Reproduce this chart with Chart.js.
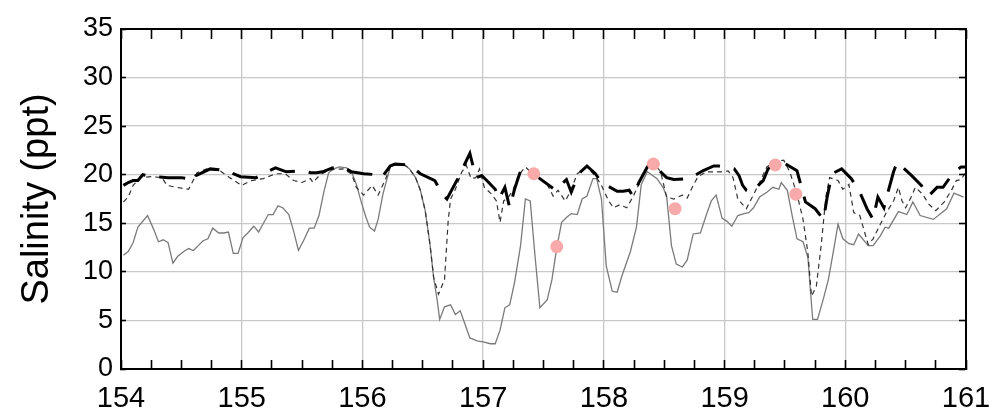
<!DOCTYPE html>
<html>
<head>
<meta charset="utf-8">
<script src="https://cdn.jsdelivr.net/npm/chart.js@4.4.0/dist/chart.umd.min.js"></script>
<style>
html, body { margin: 0; padding: 0; background: #fff; }
#wrap { width: 989px; height: 419px; }
</style>
</head>
<body>
<div id="wrap"><canvas id="salChart"></canvas></div>
<script>
// gray solid line
var grayX = [154.02,154.06,154.10,154.14,154.22,154.27,154.31,154.35,154.39,154.43,154.47,154.52,154.56,154.60,154.64,154.68,154.72,154.76,154.81,154.85,154.89,154.93,154.97,155.01,155.05,155.10,155.14,155.18,155.22,155.26,155.30,155.34,155.39,155.43,155.47,155.52,155.56,155.60,155.64,155.68,155.72,155.76,155.81,155.87,155.91,155.95,155.99,156.03,156.06,156.10,156.13,156.17,156.23,156.27,156.35,156.39,156.44,156.48,156.52,156.56,156.59,156.62,156.64,156.68,156.73,156.77,156.81,156.85,156.89,156.95,157.00,157.06,157.10,157.14,157.18,157.22,157.26,157.31,157.35,157.39,157.43,157.47,157.53,157.57,157.61,157.65,157.69,157.73,157.78,157.82,157.86,157.91,157.94,157.98,158.02,158.07,158.11,158.15,158.22,158.27,158.31,158.36,158.44,158.49,158.52,158.56,158.60,158.65,158.69,158.74,158.80,158.85,158.89,158.93,158.98,159.02,159.06,159.11,159.16,159.20,159.24,159.29,159.35,159.40,159.45,159.47,159.52,159.56,159.60,159.65,159.69,159.73,159.77,159.82,159.86,159.90,159.94,159.98,160.03,160.07,160.11,160.19,160.23,160.29,160.33,160.36,160.44,160.51,160.56,160.62,160.73,160.84,160.90,160.98];
var grayY = [11.7,12.1,13.0,14.6,15.8,14.4,13.1,13.3,13.0,10.9,11.6,12.1,12.4,12.2,12.7,13.2,13.4,14.5,14.0,14.0,14.1,11.9,11.9,13.5,14.0,14.7,14.1,15.0,15.9,15.9,16.8,16.6,15.9,14.2,12.2,13.4,14.5,14.5,15.8,18.2,20.2,20.6,20.8,20.7,20.3,19.0,17.2,15.6,14.6,14.2,15.4,18.0,20.8,21.0,21.0,20.6,19.7,18.4,16.3,12.8,9.4,7.0,5.1,6.4,6.6,5.6,6.0,4.6,3.2,2.9,2.8,2.6,2.6,4.0,6.3,6.6,8.9,12.7,17.5,17.3,11.6,6.3,7.1,9.2,12.5,15.1,15.6,16.0,15.9,17.5,17.8,19.6,19.6,17.5,10.6,8.0,7.9,9.6,12.1,14.6,19.0,20.3,19.6,18.7,17.8,12.7,10.8,10.5,11.2,13.9,14.0,15.9,17.3,17.9,15.5,15.2,14.7,15.8,16.0,16.1,16.6,17.7,18.2,18.7,18.5,19.2,18.4,15.8,13.4,13.1,11.5,5.1,5.1,7.3,9.2,12.0,14.9,13.4,12.9,12.8,13.9,12.7,12.7,13.7,14.6,14.5,16.2,15.9,17.2,15.8,15.4,16.5,18.1,17.7];

// thin dashed line
var thinX = [154.02,154.06,154.10,154.16,154.25,154.34,154.38,154.46,154.56,154.63,154.71,154.82,154.90,155.00,155.08,155.18,155.28,155.36,155.43,155.50,155.57,155.59,155.65,155.73,155.84,155.91,155.95,156.01,156.08,156.13,156.19,156.23,156.27,156.35,156.39,156.44,156.48,156.52,156.56,156.59,156.63,156.68,156.71,156.73,156.77,156.82,156.86,156.90,156.94,156.97,157.01,157.07,157.11,157.14,157.17,157.21,157.25,157.29,157.35,157.40,157.46,157.53,157.58,157.62,157.68,157.72,157.78,157.86,157.94,157.98,158.04,158.08,158.13,158.19,158.24,158.29,158.34,158.41,158.47,158.52,158.58,158.65,158.69,158.74,158.78,158.85,158.93,158.99,159.03,159.07,159.11,159.18,159.23,159.29,159.35,159.43,159.49,159.54,159.60,159.65,159.69,159.72,159.76,159.80,159.84,159.87,159.94,159.98,160.03,160.07,160.12,160.19,160.23,160.29,160.34,160.40,160.44,160.47,160.50,160.55,160.58,160.64,160.69,160.75,160.82,160.88,160.92,160.96,161.00];
var thinY = [17.2,17.7,18.9,19.7,19.8,19.7,18.9,18.7,18.5,20.2,20.6,20.4,19.7,18.9,19.4,19.6,20.1,20.1,19.4,19.2,19.6,19.2,20.0,20.5,20.6,20.1,18.7,17.9,18.9,17.9,19.5,20.8,21.0,21.0,20.6,19.7,18.4,16.3,12.8,9.4,7.7,9.2,15.2,17.5,18.5,20.2,21.0,19.6,19.7,20.6,18.7,18.0,17.3,15.1,17.3,17.7,18.5,19.9,20.8,20.2,19.7,19.0,17.8,18.4,17.3,18.2,20.1,20.8,19.7,18.9,17.3,16.6,16.9,16.6,17.7,19.0,20.4,21.3,20.3,17.7,17.5,17.9,17.6,18.9,19.8,20.3,20.3,20.3,20.4,19.7,17.5,16.5,17.7,19.2,20.8,21.4,21.5,20.3,18.0,15.4,12.0,7.5,8.5,12.7,17.8,19.7,19.4,18.5,19.0,16.1,15.8,12.8,13.4,14.9,16.1,17.3,18.7,17.3,16.6,17.8,18.7,18.0,17.0,16.3,17.2,18.4,19.4,19.5,20.3];

// thick dashed line
var thickX = [154.02,154.06,154.10,154.14,154.18,154.25,154.39,154.50,154.56,154.59,154.62,154.74,154.82,154.89,154.93,154.99,155.12,155.21,155.28,155.37,155.51,155.57,155.62,155.67,155.75,155.84,155.91,156.01,156.12,156.16,156.23,156.27,156.39,156.48,156.60,156.66,156.70,156.79,156.89,156.94,156.99,157.03,157.10,157.13,157.18,157.22,157.26,157.31,157.35,157.40,157.47,157.60,157.64,157.69,157.73,157.79,157.86,157.93,157.98,158.11,158.16,158.21,158.24,158.29,158.36,158.41,158.47,158.52,158.58,158.71,158.82,158.91,158.95,159.08,159.12,159.15,159.18,159.22,159.32,159.36,159.43,159.48,159.60,159.67,159.75,159.82,159.85,159.89,159.97,160.05,160.12,160.18,160.23,160.27,160.32,160.36,160.40,160.43,160.55,160.63,160.69,160.76,160.81,160.90,160.96,161.00];
var thickY = [18.9,19.2,19.4,19.4,20.0,19.8,19.7,19.7,19.6,19.3,19.9,20.6,20.5,20.4,20.1,19.8,19.7,20.3,20.7,20.3,20.4,20.2,20.2,20.3,20.7,20.8,20.3,20.1,20.0,19.7,20.9,21.1,21.0,20.1,19.4,18.0,17.5,19.6,22.2,19.7,19.9,19.4,18.5,17.5,18.7,16.6,18.5,20.4,20.6,20.2,19.6,18.4,18.9,19.5,18.2,20.1,20.9,20.1,19.2,18.3,18.3,18.4,17.8,19.2,20.8,21.3,20.3,19.7,19.5,19.6,20.4,20.9,20.9,20.6,19.9,18.9,18.4,18.2,19.4,20.6,21.2,21.3,20.4,17.2,16.5,15.4,17.7,20.1,20.6,19.6,18.2,16.5,15.4,17.7,16.6,18.5,20.3,21.3,19.9,18.9,17.8,18.7,18.7,20.3,20.8,20.8];

// pink sample dots
var dotX = [157.42, 157.61, 158.41, 158.59, 159.42, 159.59];
var dotY = [20.1, 12.6, 21.1, 16.5, 21.0, 18.0];

var xLabels = [154, 155, 156, 157, 158, 159, 160, 161];

function pts(xs, ys) {
    return xs.map(function (x, i) { return { x: x, y: ys[i] }; });
}

// frame edges: extra axes pinned to the plot edges, no labels, ticks pointing inwards
var frameBorder = { display: true, color: '#000', width: 2, z: 2 };
function edgeX(yValue, tl) {
    return {
        type: 'linear',
        position: { y: yValue },
        min: 154,
        max: 161,
        border: frameBorder,
        grid: { drawOnChartArea: false, z: 2, tickLength: tl, tickWidth: 1.6, tickColor: '#000' },
        ticks: { stepSize: 0.25, autoSkip: false, display: false }
    };
}
function edgeY(xValue, tl) {
    return {
        type: 'linear',
        position: { x: xValue },
        min: 0,
        max: 35,
        border: frameBorder,
        grid: { drawOnChartArea: false, z: 2, tickLength: tl, tickWidth: 1.6, tickColor: '#000' },
        ticks: { stepSize: 5, display: false }
    };
}

var ctx = document.getElementById('salChart').getContext('2d');
var salChart = new Chart(ctx, {
    type: 'line',
    data: {
        datasets: [{
            label: 'samples',
            data: pts(dotX, dotY),
            showLine: false,
            pointRadius: 6.5,
            pointBackgroundColor: '#f8aaaa',
            pointBorderWidth: 0,
            order: 0
        }, {
            label: 'thick',
            data: pts(thickX, thickY),
            borderColor: '#000',
            borderWidth: 3,
            borderDash: [26, 14],
            pointRadius: 0,
            tension: 0,
            order: 1
        }, {
            label: 'thin',
            data: pts(thinX, thinY),
            borderColor: '#333',
            borderWidth: 1.2,
            borderDash: [5, 4],
            pointRadius: 0,
            tension: 0,
            order: 2
        }, {
            label: 'gray',
            data: pts(grayX, grayY),
            borderColor: '#7a7a7a',
            borderWidth: 1.3,
            pointRadius: 0,
            tension: 0,
            order: 3
        }]
    },
    options: {
        responsive: true,
        maintainAspectRatio: false,
        animation: false,
        layout: {
            padding: { top: 29, right: 23, left: 0, bottom: 0 }
        },
        scales: {
            x: {
                type: 'linear',
                position: 'bottom',
                min: 154,
                max: 161,
                afterFit: function (s) { s.height = 50; s.paddingLeft = 0; s.paddingRight = 0; },
                border: { display: false },
                grid: {
                    drawTicks: false,
                    lineWidth: 1.3,
                    color: function (c) {
                        return xLabels.indexOf(c.tick && c.tick.value) >= 0 ? '#c8c8c8' : 'rgba(0,0,0,0)';
                    }
                },
                ticks: {
                    stepSize: 0.25,
                    autoSkip: false,
                    maxRotation: 0,
                    padding: 13,
                    color: '#000',
                    font: { family: "'Liberation Sans', Arial", size: 29 },
                    callback: function (v) { return xLabels.indexOf(v) >= 0 ? String(v) : ''; }
                }
            },
            y: {
                min: 0,
                max: 35,
                afterFit: function (s) { s.width = 121; },
                border: { display: false },
                grid: { drawTicks: false, color: '#c8c8c8', lineWidth: 1.3 },
                ticks: {
                    stepSize: 5,
                    padding: 8,
                    color: '#000',
                    font: { family: "'Liberation Sans', Arial", size: 27 }
                },
                title: {
                    display: true,
                    text: 'Salinity (ppt)',
                    color: '#000',
                    padding: { top: 15, bottom: 0 },
                    font: { family: "'Liberation Sans', Arial", size: 38 }
                }
            },
            xBottomEdge: edgeX(0, -10),
            xTopEdge: edgeX(35, 9),
            yLeftEdge: edgeY(154, -6),
            yRightEdge: edgeY(161, 6)
        },
        plugins: {
            legend: { display: false },
            tooltip: { enabled: false }
        }
    }
});
</script>
</body>
</html>
